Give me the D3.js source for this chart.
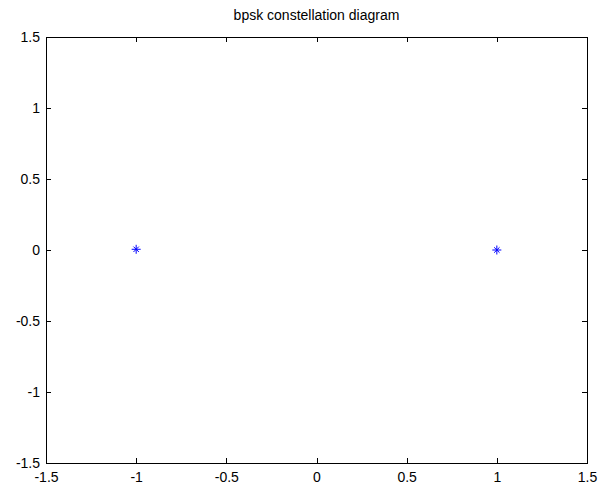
<!DOCTYPE html>
<html>
<head>
<meta charset="utf-8">
<script src="https://cdn.jsdelivr.net/npm/d3@7"></script>
<style>
body{margin:0;background:#fff;}
text{font-family:"Liberation Sans",Arial,sans-serif;}
</style>
</head>
<body>
<svg id="chart" width="599" height="485"></svg>
<script>
// data
var pointsI = [-1, 1];
var pointsQ = [0.005, 0];
var xTicks = [-1.5, -1, -0.5, 0, 0.5, 1, 1.5];
var yTicks = [-1.5, -1, -0.5, 0, 0.5, 1, 1.5];
var titleText = "bpsk constellation diagram";

var svg = d3.select("#chart");
var axL = 46, axR = 587, axT = 37, axB = 463;

var x = d3.scaleLinear().domain([-1.5, 1.5]).range([axL, axR]);
var y = d3.scaleLinear().domain([-1.5, 1.5]).range([axB, axT]);

// box
svg.append("rect")
	.attr("x", axL).attr("y", axT)
	.attr("width", axR - axL).attr("height", axB - axT)
	.style("fill", "#fff").style("stroke", "#000").style("stroke-width", 1)
	.attr("shape-rendering", "crispEdges");

function fmt(d){ return String(d); }

// axes with inward ticks
var tl = 5;
svg.append("g").attr("transform", "translate(0," + axB + ")")
	.call(d3.axisBottom(x).tickValues(xTicks).tickSize(-tl).tickPadding(9).tickFormat(fmt))
	.call(g => g.select(".domain").remove());
svg.append("g").attr("transform", "translate(0," + axT + ")")
	.call(d3.axisTop(x).tickValues(xTicks).tickSize(-tl).tickFormat(""))
	.call(g => g.select(".domain").remove());
svg.append("g").attr("transform", "translate(" + axL + ",0)")
	.call(d3.axisLeft(y).tickValues(yTicks).tickSize(-tl).tickPadding(6).tickFormat(fmt))
	.call(g => g.select(".domain").remove());
svg.append("g").attr("transform", "translate(" + axR + ",0)")
	.call(d3.axisRight(y).tickValues(yTicks).tickSize(-tl).tickFormat(""))
	.call(g => g.select(".domain").remove());

svg.selectAll(".tick line").attr("shape-rendering", "crispEdges");
svg.selectAll(".tick text").style("font-size", "14px").style("font-family", "Liberation Sans, Arial, sans-serif").attr("fill", "#000");

// title
svg.append("text")
	.attr("x", (axL + axR) / 2).attr("y", 20)
	.attr("text-anchor", "middle")
	.style("font-size", "14px")
	.text(titleText);

// star markers
var pts = pointsI.map((v, i) => ({i: v, q: pointsQ[i]}));
var r = 4.5;
var star = svg.selectAll(".star").data(pts).enter().append("g")
	.attr("class", "star")
	.attr("transform", d => "translate(" + x(d.i) + "," + y(d.q) + ")")
	.style("stroke", "#0000ff").style("stroke-width", 1);
star.append("line").attr("x1", -r).attr("x2", r).attr("y1", 0).attr("y2", 0);
star.append("line").attr("x1", 0).attr("x2", 0).attr("y1", -r).attr("y2", r);
star.append("line").attr("x1", -r * 0.6).attr("x2", r * 0.6).attr("y1", -r * 0.6).attr("y2", r * 0.6);
star.append("line").attr("x1", -r * 0.6).attr("x2", r * 0.6).attr("y1", r * 0.6).attr("y2", -r * 0.6);
</script>
</body>
</html>
